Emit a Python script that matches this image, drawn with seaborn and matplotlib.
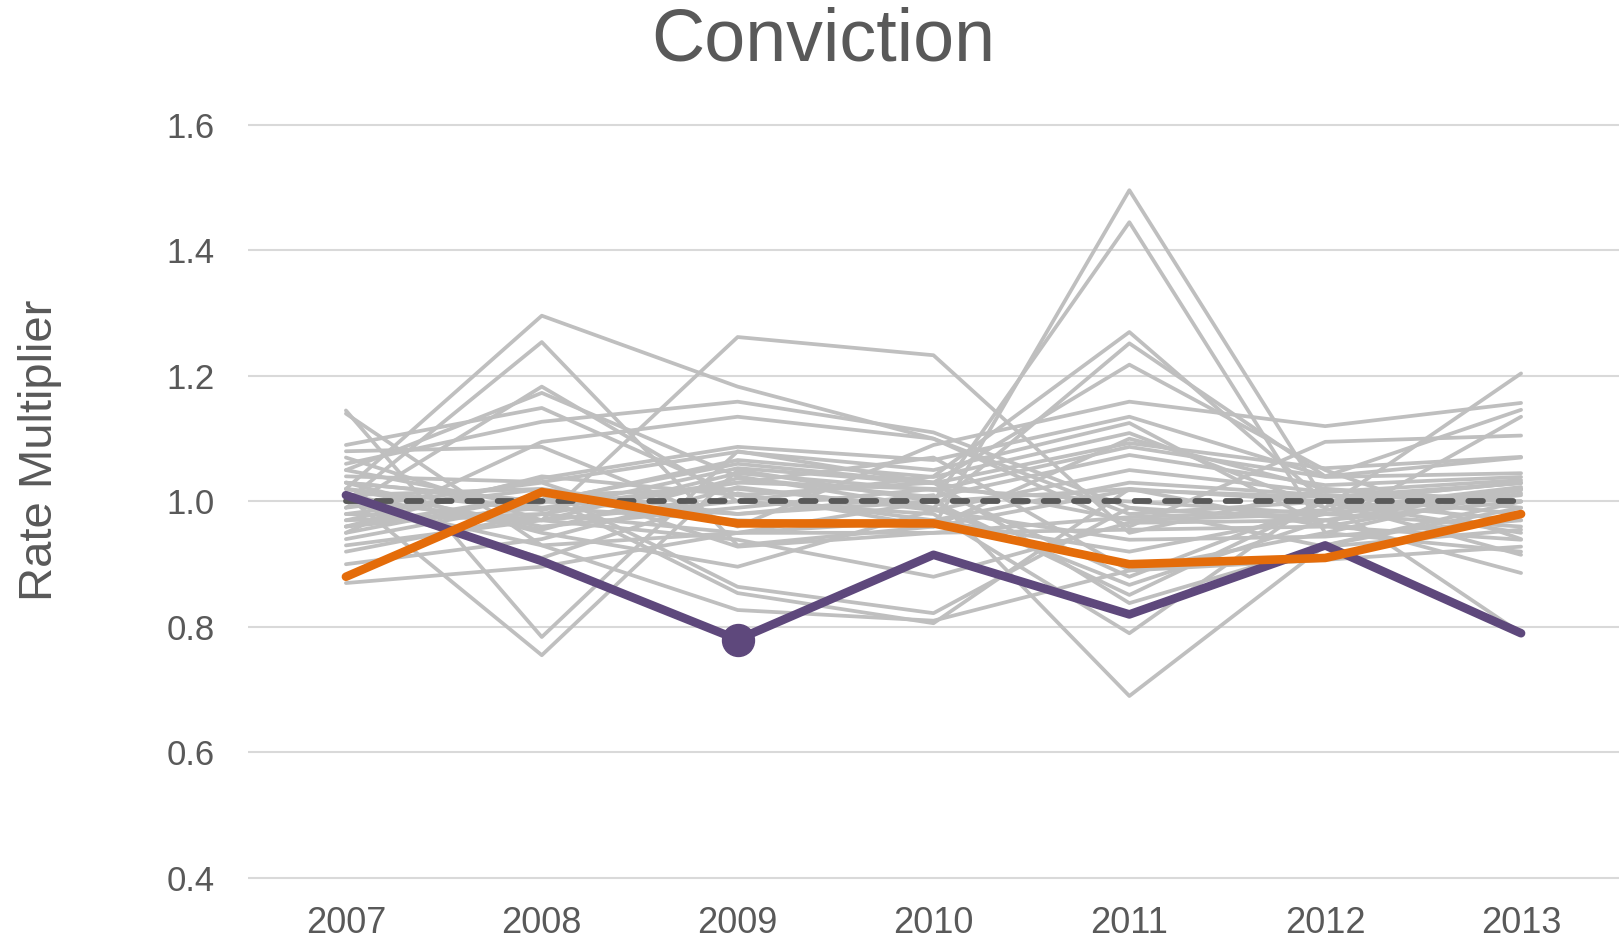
import numpy as np
import pandas as pd
import matplotlib
matplotlib.use("Agg")
import matplotlib.pyplot as plt
import seaborn as sns

years = ["2007", "2008", "2009", "2010", "2011", "2012", "2013"]

gray_series = [
    [1.02, 1.296, 1.183, 1.10, 0.98, 1.00, 1.03],
    [0.98, 0.97, 1.262, 1.233, 0.95, 1.02, 0.99],
    [1.00, 1.254, 0.93, 0.96, 1.10, 1.02, 1.00],
    [0.96, 0.99, 0.97, 0.96, 1.496, 1.00, 0.97],
    [1.03, 1.00, 0.98, 1.00, 1.445, 0.95, 1.02],
    [1.145, 0.784, 1.08, 1.03, 0.97, 0.98, 1.01],
    [1.14, 0.93, 0.95, 0.97, 0.92, 0.98, 1.02],
    [1.01, 0.755, 1.05, 1.00, 1.02, 1.00, 0.95],
    [0.99, 1.183, 1.00, 1.04, 1.27, 1.00, 1.03],
    [1.05, 1.173, 1.04, 0.99, 1.252, 1.04, 1.07],
    [1.09, 1.149, 1.01, 1.03, 1.218, 1.05, 0.94],
    [1.06, 1.127, 1.159, 1.11, 0.99, 0.97, 1.00],
    [0.95, 1.095, 1.135, 1.10, 0.96, 1.095, 1.105],
    [1.08, 1.087, 0.96, 1.09, 1.159, 1.12, 1.157],
    [0.97, 1.037, 1.087, 1.066, 1.135, 1.04, 1.146],
    [1.04, 1.031, 1.079, 1.05, 1.125, 0.96, 1.135],
    [0.94, 0.998, 1.066, 1.039, 1.109, 0.99, 1.204],
    [1.02, 0.986, 1.053, 1.029, 1.093, 1.053, 1.071],
    [0.93, 0.97, 1.045, 1.018, 1.087, 1.039, 1.045],
    [1.01, 0.955, 1.037, 1.007, 1.074, 1.026, 1.039],
    [0.90, 0.94, 1.023, 0.986, 1.05, 1.015, 1.034],
    [1.00, 0.91, 1.013, 0.96, 1.018, 1.007, 1.029],
    [0.87, 0.896, 0.95, 0.95, 0.975, 0.986, 1.023],
    [1.07, 0.97, 0.939, 0.88, 0.966, 0.97, 1.018],
    [0.99, 1.03, 0.928, 0.95, 0.955, 0.96, 1.013],
    [1.03, 0.95, 0.896, 0.986, 0.939, 0.944, 0.97],
    [0.98, 1.02, 0.864, 0.822, 0.99, 0.928, 0.955],
    [0.96, 1.01, 0.854, 0.806, 1.02, 0.96, 0.939],
    [1.00, 0.93, 0.827, 0.81, 0.89, 0.907, 0.928],
    [1.05, 0.99, 1.03, 1.07, 0.89, 0.95, 0.92],
    [1.02, 0.96, 0.99, 1.02, 0.88, 1.00, 0.915],
    [0.95, 1.01, 1.02, 0.99, 0.867, 0.97, 0.886],
    [0.97, 0.98, 0.95, 1.00, 0.851, 1.00, 0.79],
    [1.03, 1.00, 1.06, 1.03, 0.838, 0.93, 0.99],
    [1.00, 0.97, 1.00, 0.98, 0.79, 1.01, 1.00],
    [1.01, 1.02, 0.98, 1.01, 0.69, 0.93, 1.00],
    [0.92, 0.98, 1.03, 1.02, 1.00, 0.98, 0.96],
    [0.96, 1.04, 1.01, 0.97, 1.03, 1.01, 0.98],
]

purple_values = [1.01, 0.905, 0.78, 0.915, 0.82, 0.93, 0.79]
orange_values = [0.88, 1.015, 0.965, 0.965, 0.90, 0.91, 0.98]
baseline_values = [1.0, 1.0, 1.0, 1.0, 1.0, 1.0, 1.0]
highlight_index = 2  # 2009 marker on purple line

y_ticks = [0.4, 0.6, 0.8, 1.0, 1.2, 1.4, 1.6]

sns.set_theme(style="white")
plt.rcParams['font.family'] = ['Liberation Sans', 'DejaVu Sans']

text_color = "#595959"
gray = "#BFBFBF"
purple = "#5E487C"
orange = "#E46C0A"

fig = plt.figure(figsize=(16.19, 9.41), dpi=100)
ax = fig.add_axes([248 / 1619, 0.0603, 1 - 248 / 1619, 0.8739 - 0.0603])

x_idx = np.arange(len(years))
rows = []
for i, s in enumerate(gray_series):
    for xi, v in zip(x_idx, s):
        rows.append({"x": xi, "value": v, "unit": i})
gray_df = pd.DataFrame(rows)

sns.lineplot(data=gray_df, x="x", y="value", units="unit", estimator=None,
             color=gray, linewidth=2.7, ax=ax, legend=False, zorder=2)

sns.lineplot(x=x_idx, y=baseline_values, color=text_color, linewidth=4.2,
             ax=ax, zorder=3, linestyle=(0, (2.5, 2.7)))
ax.lines[-1].set_dash_capstyle("round")

sns.lineplot(x=x_idx, y=purple_values, color=purple, linewidth=6.2, ax=ax,
             zorder=4, solid_capstyle="round", solid_joinstyle="round")
ax.plot([x_idx[highlight_index]], [purple_values[highlight_index]], "o",
        color=purple, markersize=23, zorder=4)

sns.lineplot(x=x_idx, y=orange_values, color=orange, linewidth=6.2, ax=ax,
             zorder=5, solid_capstyle="round", solid_joinstyle="round")

ax.set_xlim(-0.5, 6.5)
ax.set_ylim(0.39, 1.61)
ax.set_yticks(y_ticks)
ax.set_yticklabels([f"{t:.1f}" for t in y_ticks])
ax.set_xticks(x_idx)
ax.set_xticklabels(years)
ax.tick_params(axis="y", length=0, pad=24, labelsize=25, labelcolor=text_color)
ax.tick_params(axis="x", length=0, pad=16, labelsize=26, labelcolor=text_color)
ax.set_xlabel("")
ax.set_ylabel("")
ax.yaxis.grid(True, color="#D9D9D9", linewidth=1.5)
ax.xaxis.grid(False)
ax.set_axisbelow(True)
for sp in ax.spines.values():
    sp.set_visible(False)

fig.text(823 / 1619, 0.956, "Conviction", ha="center", va="center",
         fontsize=53, color=text_color)
fig.text(40 / 1619, 0.521, "Rate Multiplier", ha="center", va="center",
         rotation=90, fontsize=34, color=text_color)

fig.savefig("out.png", dpi=100)
